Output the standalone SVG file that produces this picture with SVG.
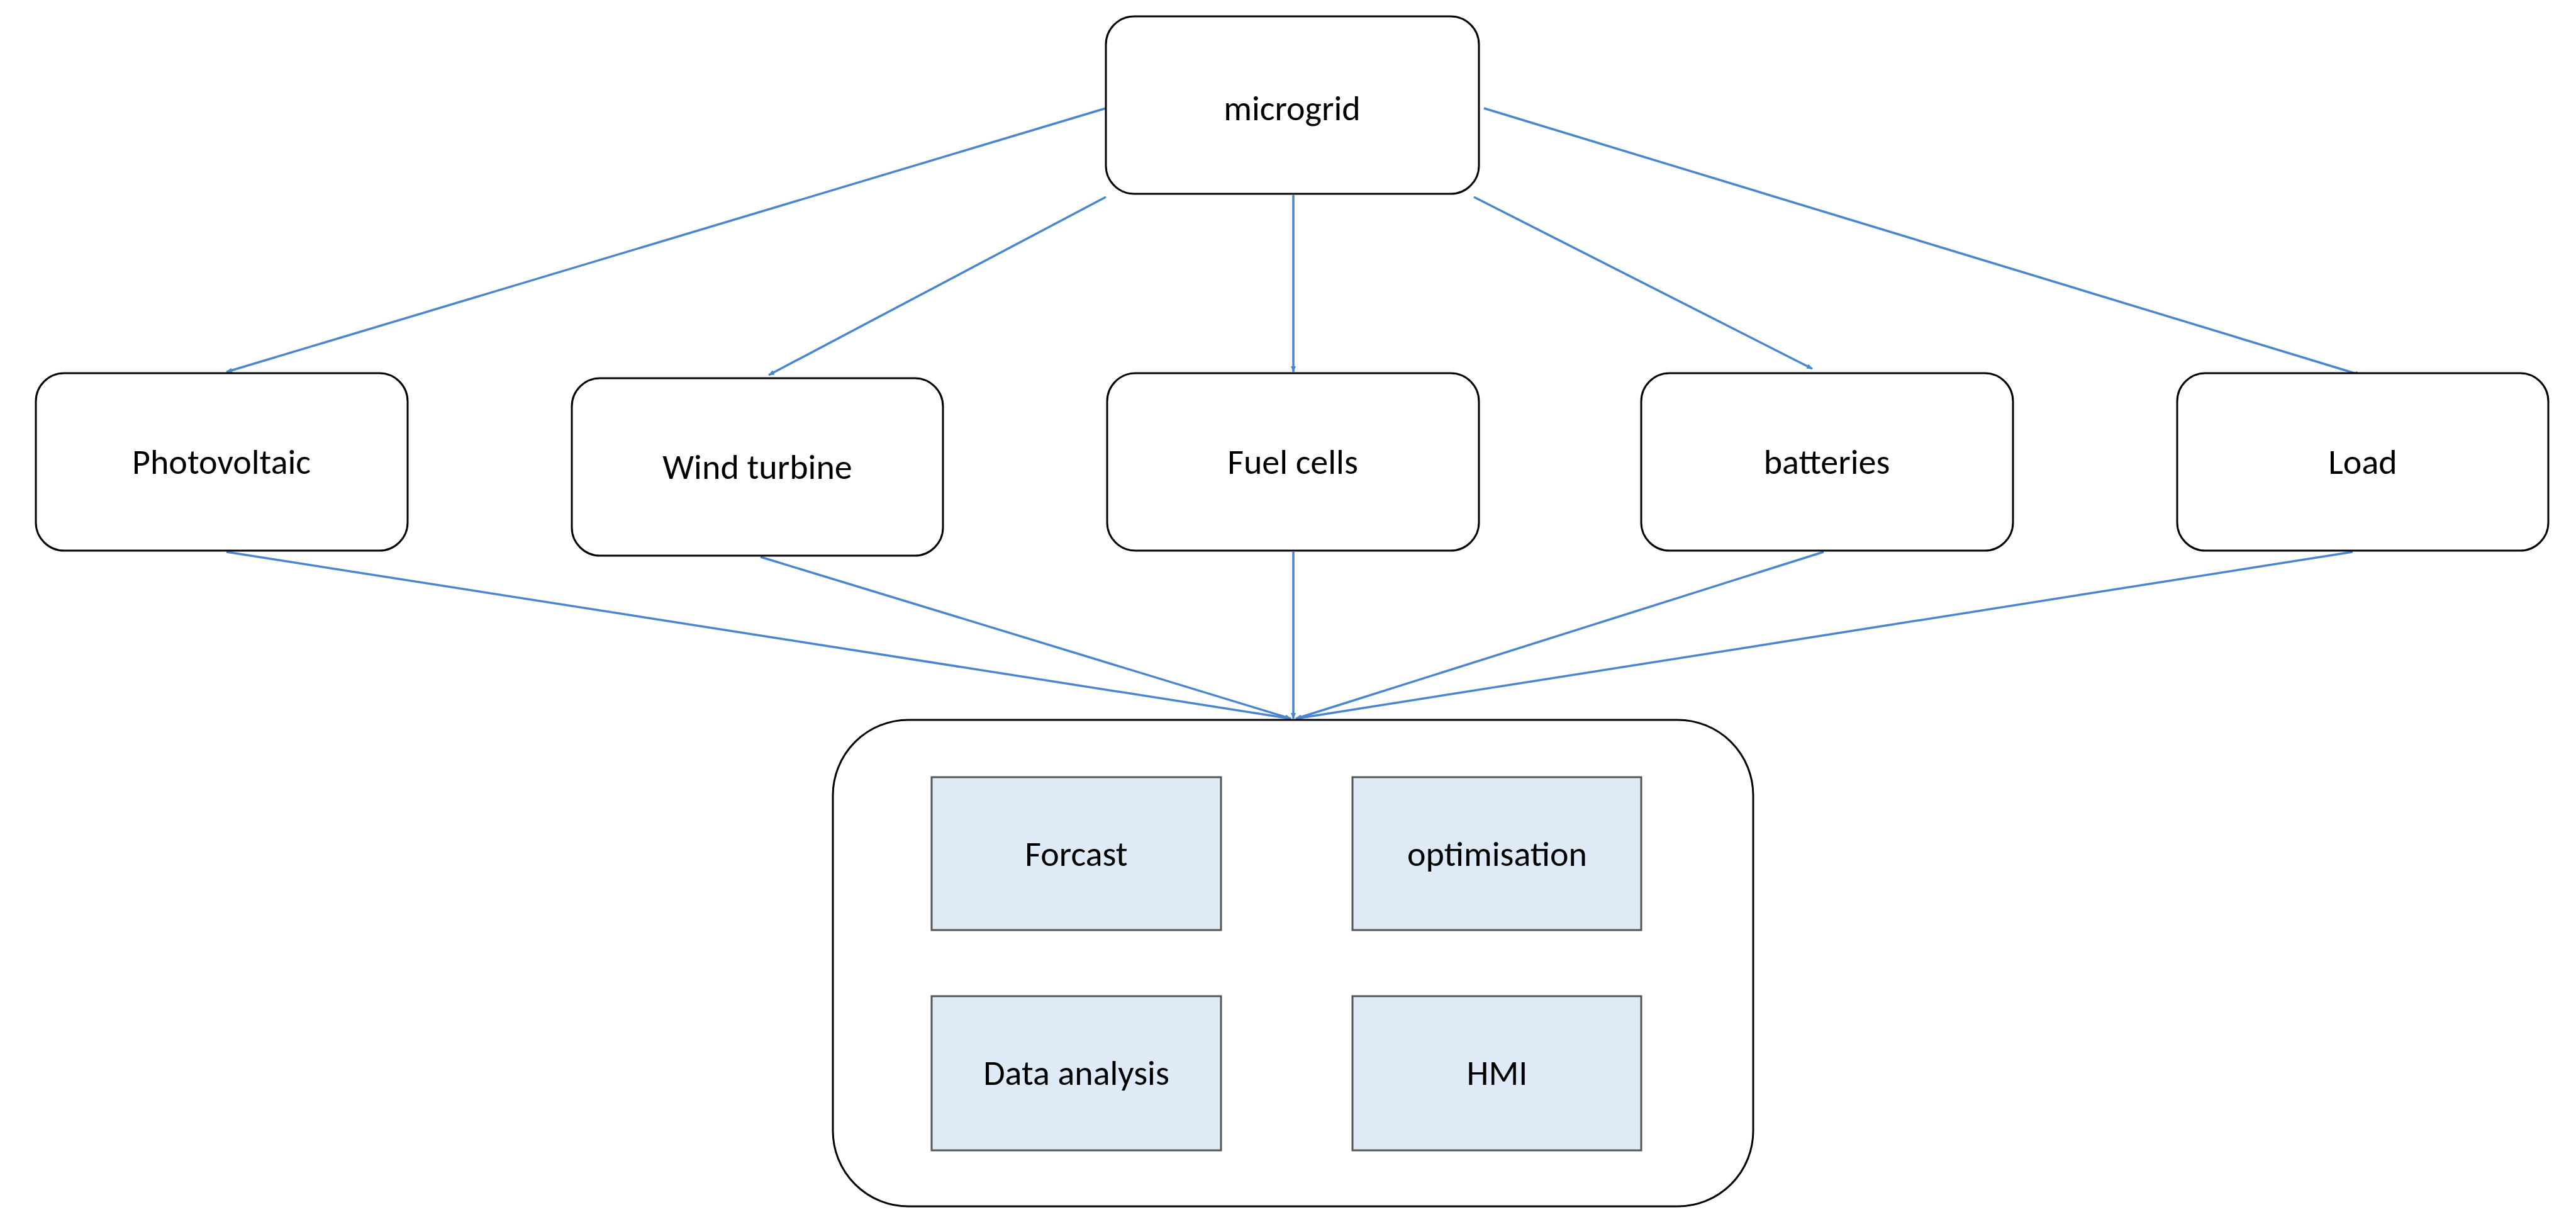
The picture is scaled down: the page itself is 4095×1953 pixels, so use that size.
<svg xmlns="http://www.w3.org/2000/svg" width="4095" height="1953" viewBox="0 0 4095 1953">
<style>
.n{fill:#fff;stroke:#000;stroke-width:3}
.s{fill:#deebf7;stroke:#555;stroke-width:3}
text{font-family:Calibri,"Liberation Sans",sans-serif;font-size:56px;text-anchor:middle;dominant-baseline:central;fill:#000}
.c line{stroke:#4a86d0;stroke-width:3.5;marker-end:url(#a)}
</style>
<defs><marker id="a" markerWidth="10" markerHeight="8" refX="9" refY="4" orient="auto" markerUnits="userSpaceOnUse" viewBox="0 0 10 8"><path d="M0,0L10,4L0,8z" fill="#4a86d0"/></marker></defs>
<rect width="4095" height="1953" fill="#fff"/>
<g class="c">
<line x1="1758" y1="172" x2="360" y2="591"/>
<line x1="1758" y1="313" x2="1222" y2="596"/>
<line x1="2056" y1="310" x2="2056" y2="591"/>
<line x1="2343" y1="313" x2="2881" y2="586"/>
<line x1="2359" y1="172" x2="3753" y2="596"/>
<line x1="360" y1="877" x2="2052" y2="1142"/>
<line x1="1209" y1="885" x2="2052" y2="1142"/>
<line x1="2056" y1="877" x2="2056" y2="1142"/>
<line x1="2899" y1="877" x2="2060" y2="1142"/>
<line x1="3740" y1="877" x2="2060" y2="1142"/>
</g>
<g id="microgrid"><rect class="n" x="1758" y="26" width="593" height="282" rx="45"/><text x="2054" y="172">microgrid</text></g>
<g id="pv"><rect class="n" x="57" y="593" width="591" height="282" rx="45"/><text x="352" y="734">Photovoltaic</text></g>
<g id="wind"><rect class="n" x="909" y="601" width="590" height="282" rx="45"/><text x="1204" y="742">Wind turbine</text></g>
<g id="fuel"><rect class="n" x="1760" y="593" width="591" height="282" rx="45"/><text x="2055" y="734">Fuel cells</text></g>
<g id="batteries"><rect class="n" x="2609" y="593" width="591" height="282" rx="45"/><text x="2904" y="734">batteries</text></g>
<g id="load"><rect class="n" x="3461" y="593" width="590" height="282" rx="45"/><text x="3756" y="734">Load</text></g>
<g id="container"><rect class="n" x="1324" y="1144" width="1463" height="773" rx="120"/></g>
<g id="forcast"><rect class="s" x="1481" y="1235" width="460" height="243"/><text x="1711" y="1357">Forcast</text></g>
<g id="optimisation"><rect class="s" x="2150" y="1235" width="459" height="243"/><text x="2380" y="1357">optimisation</text></g>
<g id="data"><rect class="s" x="1481" y="1583" width="460" height="245"/><text x="1711" y="1705">Data analysis</text></g>
<g id="hmi"><rect class="s" x="2150" y="1583" width="459" height="245"/><text x="2380" y="1705">HMI</text></g>
</svg>
